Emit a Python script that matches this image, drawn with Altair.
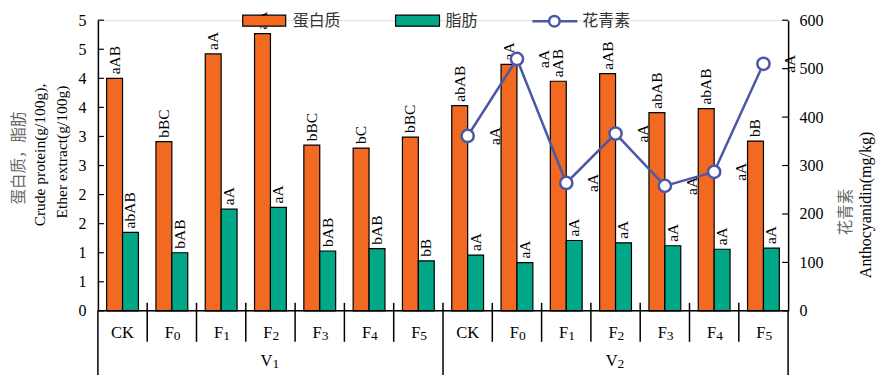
import altair as alt
import pandas as pd

# ---------------- data ----------------
groups = ["V₁"] * 7 + ["V₂"] * 7
treatments = ["CK", "F₀", "F₁", "F₂", "F₃", "F₄", "F₅"] * 2
protein = [4.00, 2.91, 4.42, 4.77, 2.85, 2.80, 2.99, 3.53, 4.24, 3.95, 4.08, 3.41, 3.48, 2.92]
fat = [1.35, 1.00, 1.75, 1.78, 1.03, 1.07, 0.86, 0.96, 0.83, 1.21, 1.17, 1.12, 1.06, 1.08]
protein_sig = ["aAB", "bBC", "aA", "aA", "bBC", "bC", "bBC",
               "abAB", "aA", "aAB", "aAB", "abAB", "abAB", "bB"]
fat_sig = ["abAB", "bAB", "aA", "aA", "bAB", "bAB", "bB",
           "aA", "aA", "aA", "aA", "aA", "aA", "aA"]
anth_group = ["V₂"] * 7
anth_treat = ["CK", "F₀", "F₁", "F₂", "F₃", "F₄", "F₅"]
anthocyanin = [361, 520, 264, 366, 258, 287, 510]
anth_sig = ["aA"] * 7
left_ticks = [0, 0.5, 1, 1.5, 2, 2.5, 3, 3.5, 4, 4.5, 5]
right_ticks = [0, 100, 200, 300, 400, 500, 600]
series_names = ["蛋白质", "脂肪"]

ORANGE = "#F26A21"
GREEN = "#00A887"
BLUE = "#4B58A6"
FONT = "Liberation Serif, Noto Sans CJK SC"

W, H = 691, 291

SUBS = "₀₁₂₃₄₅₆₇₈₉"
SUB = str.maketrans(SUBS, "0123456789")


def split_label(s):
    main = "".join(c for c in s if c not in SUBS)
    sub = "".join(c for c in s if c in SUBS).translate(SUB)
    return main, sub


keys = [f"{g}|{t}" for g, t in zip(groups, treatments)]
bars = pd.DataFrame({
    "key": keys * 2,
    "series": [series_names[0]] * 14 + [series_names[1]] * 14,
    "value": protein + fat,
    "sig": protein_sig + fat_sig,
})
anth = pd.DataFrame({
    "key": [f"{g}|{t}" for g, t in zip(anth_group, anth_treat)],
    "value": anthocyanin,
    "sig": anth_sig,
})
cats = pd.DataFrame({"key": keys, "label": treatments})
cats["main"] = [split_label(s)[0] for s in treatments]
cats["sub"] = [split_label(s)[1] for s in treatments]
grp = pd.DataFrame({"key": ["V₁|F₂", "V₂|F₂"], "label": ["V₁", "V₂"]})
grp["main"] = [split_label(s)[0] for s in grp["label"]]
grp["sub"] = [split_label(s)[1] for s in grp["label"]]
sep_short = pd.DataFrame({"key": [k for i, k in enumerate(keys) if i not in (0, 7)]})
sep_long = pd.DataFrame({"key": [keys[7]]})
lt = pd.DataFrame({"v": left_ticks})
rt = pd.DataFrame({"v": right_ticks})
one = pd.DataFrame({"a": [0]})

xscale = alt.Scale(domain=keys, paddingInner=0, paddingOuter=0)
X = alt.X("key:N", scale=xscale, axis=None)
XO = alt.XOffset("series:N", scale=alt.Scale(domain=series_names, paddingInner=0, paddingOuter=0.55))
yleft = alt.Scale(domain=[0, 5], nice=False, zero=True)
yright = alt.Scale(domain=[0, 600], nice=False, zero=True)

left_axis = alt.Axis(values=left_ticks, format=".0f", tickSize=0, labelPadding=12,
                     labelOverlap=False, grid=False, title=None, domainColor="black",
                     domainWidth=1.5, labelFont=FONT, labelFontSize=16, labelColor="black")
right_axis = alt.Axis(orient="right", values=right_ticks, tickSize=0, labelPadding=11,
                      labelOverlap=False, grid=False, title=None, domainColor="black",
                      domainWidth=1.5, labelFont=FONT, labelFontSize=16, labelColor="black")

# ---------------- left (bars) ----------------
bar_layer = alt.Chart(bars).mark_bar(stroke="black", strokeWidth=1.2).encode(
    x=X, xOffset=XO,
    y=alt.Y("value:Q", scale=yleft, axis=left_axis),
    fill=alt.Color("series:N", scale=alt.Scale(domain=series_names, range=[ORANGE, GREEN]), legend=None),
)
bar_text = alt.Chart(bars).mark_text(angle=270, align="left", baseline="middle", dx=4,
                                     font=FONT, fontSize=15.5, color="black").encode(
    x=X, xOffset=XO, y=alt.Y("value:Q", scale=yleft, axis=left_axis), text="sig:N")
left_tick_marks = alt.Chart(lt).mark_rule(color="black", strokeWidth=1.2).encode(
    y=alt.Y("v:Q", scale=yleft, axis=left_axis), x=alt.value(0), x2=alt.value(6))

baseline = alt.Chart(one).mark_rule(color="black", strokeWidth=1.5).encode(
    x=alt.value(0), x2=alt.value(W), y=alt.value(H))
ext_left = alt.Chart(one).mark_rule(color="black", strokeWidth=1.5).encode(
    x=alt.value(0), y=alt.value(H), y2=alt.value(360))
ext_right = alt.Chart(one).mark_rule(color="black", strokeWidth=1.5).encode(
    x=alt.value(W), y=alt.value(H), y2=alt.value(360))
sep1 = alt.Chart(sep_short).mark_rule(color="black", strokeWidth=1.5).encode(
    x=alt.X("key:N", scale=xscale, axis=None, bandPosition=0), y=alt.value(283), y2=alt.value(322))
sep2 = alt.Chart(sep_long).mark_rule(color="black", strokeWidth=1.5).encode(
    x=alt.X("key:N", scale=xscale, axis=None, bandPosition=0), y=alt.value(283), y2=alt.value(360))


def sub_labels(df, ypix):
    plain = df[df["sub"] == ""]
    subd = df[df["sub"] != ""]
    layers = []
    if len(plain):
        layers.append(alt.Chart(plain).mark_text(font=FONT, fontSize=16.5, baseline="middle",
                                                 color="black").encode(
            x=X, y=alt.value(ypix), text="main:N"))
    if len(subd):
        layers.append(alt.Chart(subd).mark_text(font=FONT, fontSize=16.5, baseline="middle",
                                                align="right", dx=2, color="black").encode(
            x=X, y=alt.value(ypix), text="main:N"))
        layers.append(alt.Chart(subd).mark_text(font=FONT, fontSize=13.5, baseline="middle",
                                                align="left", dx=2, dy=3, color="black").encode(
            x=X, y=alt.value(ypix), text="sub:N"))
    return layers


cat_layers = sub_labels(cats, 313)
grp_layers = sub_labels(grp, 341)


def txt(s, x, y, size=15, color="black", angle=0, align="center"):
    return alt.Chart(one).mark_text(text=s, font=FONT, fontSize=size, color=color, angle=angle,
                                    align=align, baseline="middle").encode(
        x=alt.value(x), y=alt.value(y))


titles = [
    txt("蛋白质，脂肪", -79, 138, 15.5, "#666666", 270),
    txt("Crude protein(g/100g),", -58, 135, 15.5, "black", 270),
    txt("Ether extract(g/100g)", -36, 132, 15.5, "black", 270),
    txt("花青素", 749, 192, 15.5, "#666666", 270),
    txt("Anthocyanidin(mg/kg)", 769, 185, 16, "black", 270),
]

left = alt.layer(bar_layer, bar_text, left_tick_marks, baseline, ext_left, ext_right,
                 sep1, sep2, *cat_layers, *grp_layers, *titles)

# ---------------- right (anthocyanin) ----------------
line = alt.Chart(anth).mark_line(color=BLUE, strokeWidth=2.5).encode(
    x=X, y=alt.Y("value:Q", scale=yright, axis=right_axis))
pts = alt.Chart(anth).mark_point(shape="circle", filled=True, fill="white", stroke=BLUE,
                                 strokeWidth=2.5, size=150, opacity=1).encode(
    x=X, y=alt.Y("value:Q", scale=yright, axis=right_axis))
anth_text = alt.Chart(anth).mark_text(angle=270, align="center", baseline="middle", dy=27,
                                      font=FONT, fontSize=15.5, color="black").encode(
    x=X, y=alt.Y("value:Q", scale=yright, axis=right_axis), text="sig:N")
right_tick_marks = alt.Chart(rt).mark_rule(color="black", strokeWidth=1.2).encode(
    y=alt.Y("v:Q", scale=yright, axis=right_axis), x=alt.value(W - 6), x2=alt.value(W))

# legend (drawn on top)
leg = [
    alt.Chart(one).mark_rect(fill=ORANGE, stroke="black", strokeWidth=1.2).encode(
        x=alt.value(145), x2=alt.value(188), y=alt.value(-5), y2=alt.value(6)),
    txt("蛋白质", 195, 1, 16, "#333333", 0, "left"),
    alt.Chart(one).mark_rect(fill=GREEN, stroke="black", strokeWidth=1.2).encode(
        x=alt.value(298), x2=alt.value(342), y=alt.value(-5), y2=alt.value(6)),
    txt("脂肪", 348, 1, 16, "#333333", 0, "left"),
    alt.Chart(one).mark_rule(color=BLUE, strokeWidth=2.5).encode(
        x=alt.value(435), x2=alt.value(480), y=alt.value(1)),
    alt.Chart(one).mark_point(shape="circle", filled=True, fill="white", stroke=BLUE,
                              strokeWidth=2.5, size=110, opacity=1).encode(
        x=alt.value(457), y=alt.value(1)),
    txt("花青素", 485, 1, 16, "#333333", 0, "left"),
]

right = alt.layer(line, pts, anth_text, right_tick_marks, *leg)

chart = alt.layer(left, right).resolve_scale(y="independent").properties(
    width=W, height=H,
    autosize=alt.AutoSizeParams(type="none"),
    padding={"left": 90, "top": 12, "right": 90, "bottom": 64},
).configure_view(stroke=None).configure(background="white")

chart.save("out.html", embed_options={"renderer": "svg", "actions": False})
